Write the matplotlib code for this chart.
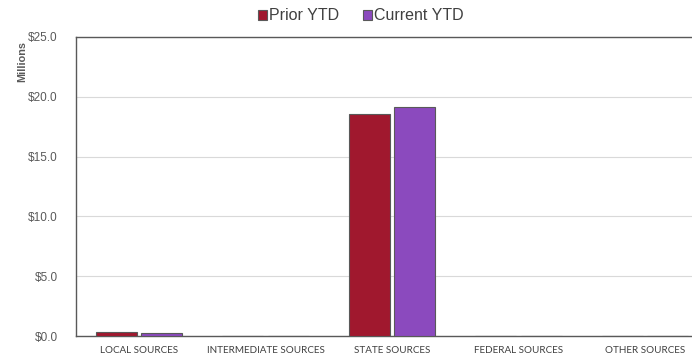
import numpy as np
import matplotlib
matplotlib.use("Agg")
import matplotlib.pyplot as plt
from matplotlib.ticker import FuncFormatter, MultipleLocator

# values in millions of dollars
categories = ["LOCAL SOURCES", "INTERMEDIATE SOURCES", "STATE SOURCES",
              "FEDERAL SOURCES", "OTHER SOURCES"]
prior_ytd = [0.32, 0.0, 18.55, 0.0, 0.0]
current_ytd = [0.25, 0.0, 19.15, 0.0, 0.0]
series_names = ["Prior YTD", "Current YTD"]
series_colors = ["#A0182E", "#8B4ABE"]

plt.rcParams['font.family'] = ['Liberation Sans', 'DejaVu Sans']

fig = plt.figure(figsize=(6.92, 3.58), dpi=100)
# axes runs a bit past the right edge of the picture, like the original
ax = fig.add_axes([76 / 692, 22 / 358, 632 / 692, 299 / 358])

x = np.arange(len(categories))
w = 0.325
off = 0.18
for vals, name, col, sign in zip([prior_ytd, current_ytd], series_names,
                                 series_colors, [-1, 1]):
    ax.bar(x + sign * off, vals, width=w, color=col, edgecolor="#595959",
           linewidth=0.8, label=name, zorder=3)

ax.set_xlim(-0.5, len(categories) - 0.5)
ax.set_ylim(0, 25)
ax.yaxis.set_major_locator(MultipleLocator(5))
ax.yaxis.set_major_formatter(FuncFormatter(lambda v, p: f"${v:.1f}"))
ax.grid(axis='y', color="#d9d9d9", linewidth=0.8, zorder=0)
ax.set_axisbelow(True)

for side in ['left', 'top', 'bottom']:
    ax.spines[side].set_color("#595959")
    ax.spines[side].set_linewidth(1.0)
ax.spines['right'].set_visible(False)

ax.tick_params(axis='y', length=0, pad=13, labelsize=8.5, labelcolor="#595959")
ax.tick_params(axis='x', length=0, pad=7)
ax.set_xticks(x)
ax.set_xticklabels(categories, fontfamily=['Lato', 'DejaVu Sans'],
                   fontsize=7.1, color="#404040")

fig.text(22 / 692, 1 - 62 / 358, "Millions", rotation=90, ha='center',
         va='center', fontsize=7.8, fontweight='bold', color="#595959")

leg = fig.legend(loc='center', bbox_to_anchor=(361 / 692, 1 - 16 / 358),
                 ncol=2, frameon=False, fontsize=11.5, handlelength=0.55,
                 handleheight=0.55, handletextpad=0.15, columnspacing=1.5)
for t in leg.get_texts():
    t.set_color("#404040")

fig.savefig("out.png", dpi=100)
